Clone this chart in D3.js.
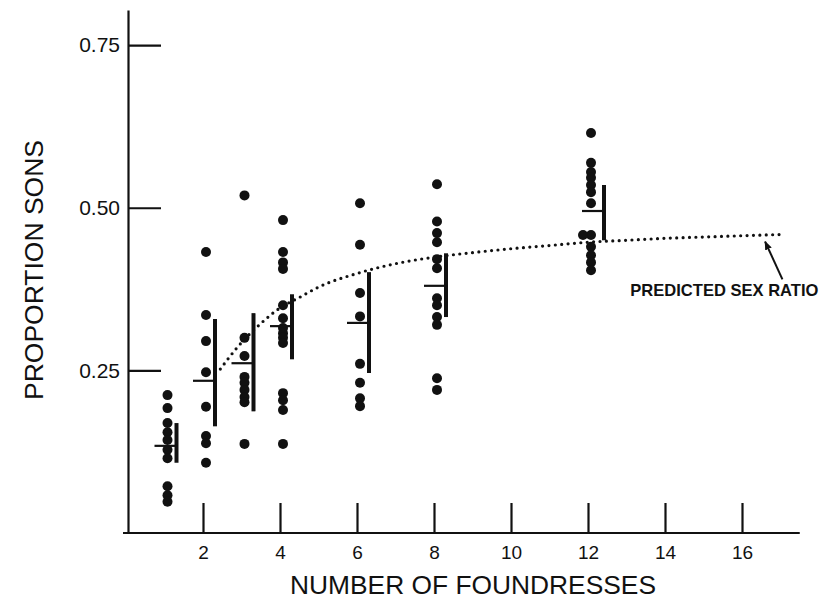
<!DOCTYPE html>
<html><head><meta charset="utf-8">
<script src="https://cdn.jsdelivr.net/npm/d3@7"></script>
<style>
body{margin:0;background:#fff}
svg{display:block}
text{font-family:"Liberation Sans",Arial,sans-serif;fill:#111}
</style>
</head><body>
<svg id="c" width="825" height="598"></svg>
<script>
// ---- data ----
const foundresses = [1, 2, 3, 4, 6, 8, 12];
const sons1  = [0.212, 0.192, 0.169, 0.155, 0.143, 0.128, 0.115, 0.072, 0.058, 0.048];
const sons2  = [0.432, 0.335, 0.295, 0.247, 0.194, 0.149, 0.138, 0.108];
const sons3  = [0.519, 0.300, 0.272, 0.240, 0.231, 0.220, 0.209, 0.201, 0.137];
const sons4  = [0.481, 0.432, 0.416, 0.406, 0.350, 0.330, 0.315, 0.307, 0.300, 0.292, 0.215, 0.204, 0.189, 0.137];
const sons6  = [0.507, 0.443, 0.369, 0.333, 0.260, 0.231, 0.207, 0.195];
const sons8  = [0.536, 0.479, 0.461, 0.447, 0.421, 0.407, 0.361, 0.350, 0.332, 0.320, 0.238, 0.220];
const sons12 = [0.615, 0.569, 0.555, 0.546, 0.535, 0.524, 0.507, 0.458, 0.458, 0.440, 0.427, 0.416, 0.404];
const meanSons = [0.134, 0.234, 0.261, 0.318, 0.323, 0.380, 0.495];
const barLow   = [0.108, 0.164, 0.187, 0.267, 0.246, 0.332, 0.450];
const barHigh  = [0.169, 0.329, 0.338, 0.367, 0.401, 0.430, 0.535];
const predX = [2.45, 2.9, 3.5, 4, 4.5, 5, 6, 7, 8, 9, 10, 11, 12, 13, 14, 15, 16, 17.1];
const predY = [0.252, 0.286, 0.322, 0.346, 0.362, 0.378, 0.399, 0.414, 0.424, 0.431, 0.437, 0.442, 0.447, 0.450, 0.453, 0.455, 0.457, 0.459];
const xTicks = [2, 4, 6, 8, 10, 12, 14, 16];
const yTicks = [0.25, 0.50, 0.75];
const allSons = [sons1, sons2, sons3, sons4, sons6, sons8, sons12];

// ---- drawing ----
const svg = d3.select("#c");
const x = d3.scaleLinear().domain([0, 17.5]).range([126, 799.75]);
const y = d3.scaleLinear().domain([0, 0.804]).range([533, 10]);
const ink = "#111";

// x axis
const gx = svg.append("g").attr("transform", `translate(0,${y(0)})`)
  .call(d3.axisBottom(x).tickValues(xTicks).tickSizeInner(-30).tickSizeOuter(0).tickPadding(12.5).tickFormat(d3.format("d")));
gx.select(".domain").attr("stroke", ink).attr("stroke-width", 2.2).attr("d", `M${x(0)-3},0H${x(17.5)}`);
gx.selectAll(".tick line").attr("stroke", ink).attr("stroke-width", 2.2);
gx.selectAll(".tick text").attr("font-size", 19).attr("fill", ink).attr("font-family", "Liberation Sans, Arial, sans-serif");

// y axis
const gy = svg.append("g").attr("transform", `translate(${x(0)+2},0)`)
  .call(d3.axisLeft(y).tickValues(yTicks).tickSizeInner(-33).tickSizeOuter(0).tickPadding(8).tickFormat(d3.format(".2f")));
gy.select(".domain").attr("stroke", ink).attr("stroke-width", 2.2);
gy.selectAll(".tick line").attr("stroke", ink).attr("stroke-width", 2.2);
gy.selectAll(".tick text").attr("font-size", 21).attr("fill", ink).attr("font-family", "Liberation Sans, Arial, sans-serif");

// predicted curve (dotted)
const pred = predX.map((v, i) => [v, predY[i]]);
svg.append("path").datum(pred)
  .attr("d", d3.line().x(d => x(d[0])).y(d => y(d[1])).curve(d3.curveMonotoneX))
  .attr("fill", "none").attr("stroke", ink).attr("stroke-width", 3.2)
  .attr("stroke-linecap", "round").attr("stroke-dasharray", "0,6.4");

// data points
foundresses.forEach((n, gi) => {
  const vals = allSons[gi];
  const seen = {};
  vals.forEach(v => {
    const k = v.toFixed(3);
    const dup = seen[k] ? 1 : 0; seen[k] = true;
    svg.append("circle")
      .attr("cx", x(n) + 3 - (dup ? 8 : 0))
      .attr("cy", y(v)).attr("r", 5).attr("fill", ink);
  });
  const bx = x(n) + 12 + (n === 12 ? 4 : 0);
  svg.append("line").attr("x1", bx).attr("x2", bx)
    .attr("y1", y(barLow[gi])).attr("y2", y(barHigh[gi]))
    .attr("stroke", ink).attr("stroke-width", 4);
  svg.append("line").attr("x1", bx - 22).attr("x2", bx)
    .attr("y1", y(meanSons[gi])).attr("y2", y(meanSons[gi]))
    .attr("stroke", ink).attr("stroke-width", 2.2);
});

// annotation
const defs = svg.append("defs");
defs.append("marker").attr("id", "ah").attr("viewBox", "0 0 10 10")
  .attr("refX", 9).attr("refY", 5).attr("markerWidth", 9).attr("markerHeight", 9)
  .attr("markerUnits", "userSpaceOnUse").attr("orient", "auto")
  .append("path").attr("d", "M0,1L10,5L0,9Z").attr("fill", ink);
svg.append("line")
  .attr("x1", x(17.05)).attr("y1", y(0.390))
  .attr("x2", x(16.6)).attr("y2", y(0.448))
  .attr("stroke", ink).attr("stroke-width", 2).attr("marker-end", "url(#ah)");
svg.append("text").attr("x", x(13.1)).attr("y", y(0.365))
  .attr("font-size", 17).attr("font-weight", "bold")
  .attr("textLength", 188).attr("lengthAdjust", "spacingAndGlyphs")
  .text("PREDICTED SEX RATIO");

// axis titles
svg.append("text").attr("x", 473).attr("y", 594).attr("text-anchor", "middle")
  .attr("font-size", 25).attr("textLength", 366).attr("lengthAdjust", "spacingAndGlyphs")
  .text("NUMBER OF FOUNDRESSES");
svg.append("text").attr("transform", "translate(43,270) rotate(-90)").attr("text-anchor", "middle")
  .attr("font-size", 25).attr("textLength", 260).attr("lengthAdjust", "spacingAndGlyphs")
  .text("PROPORTION SONS");
</script>
</body></html>
